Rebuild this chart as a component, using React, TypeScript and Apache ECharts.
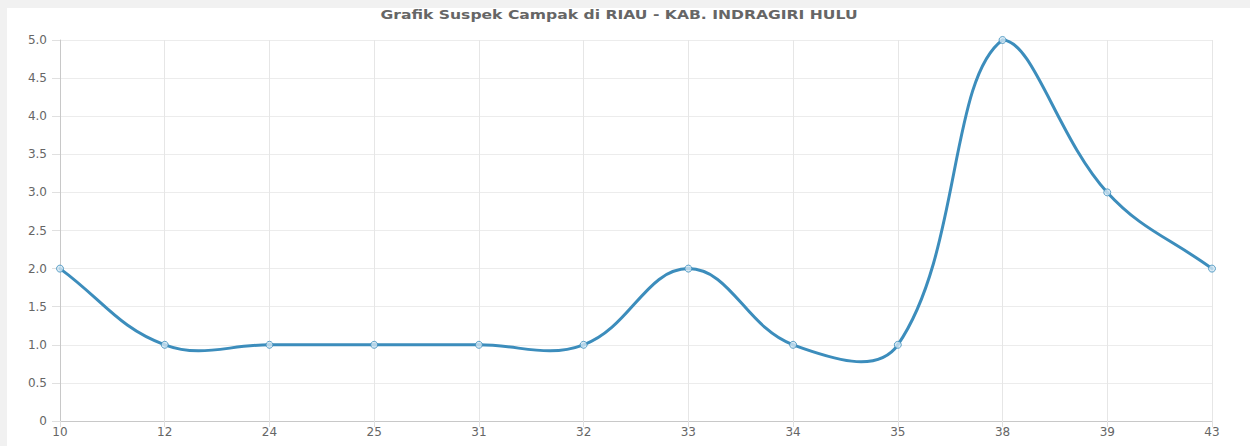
import React, { useEffect, useRef } from "react";
import * as echarts from "echarts";

const titleText = "Grafik Suspek Campak di RIAU - KAB. INDRAGIRI HULU";
const categories = ["10", "12", "24", "25", "31", "32", "33", "34", "35", "38", "39", "43"];
const values = [2, 1, 1, 1, 1, 1, 2, 1, 1, 5, 3, 2];
const yTicks = { min: 0, max: 5, interval: 0.5 };

const LINE_COLOR = "#3c8dbc";
const TENSION = 0.4;
const FONT = "DejaVu Sans, Liberation Sans, Arial, sans-serif";

type P = { x: number; y: number };

function controlPoints(pts: P[], area: { x: number; y: number; width: number; height: number }) {
  const n = pts.length;
  const res: { prev: P; next: P }[] = [];
  for (let i = 0; i < n; i++) {
    const cur = pts[i];
    const prev = i > 0 ? pts[i - 1] : cur;
    const next = i < n - 1 ? pts[i + 1] : cur;
    const d01 = Math.hypot(cur.x - prev.x, cur.y - prev.y);
    const d12 = Math.hypot(next.x - cur.x, next.y - cur.y);
    let s01 = d01 / (d01 + d12);
    let s12 = d12 / (d01 + d12);
    if (isNaN(s01)) s01 = 0;
    if (isNaN(s12)) s12 = 0;
    const fa = TENSION * s01;
    const fb = TENSION * s12;
    const clamp = (p: P): P => ({
      x: Math.max(area.x, Math.min(area.x + area.width, p.x)),
      y: Math.max(area.y, Math.min(area.y + area.height, p.y)),
    });
    res.push({
      prev: clamp({ x: cur.x - fa * (next.x - prev.x), y: cur.y - fa * (next.y - prev.y) }),
      next: clamp({ x: cur.x + fb * (next.x - prev.x), y: cur.y + fb * (next.y - prev.y) }),
    });
  }
  return res;
}

export default function App() {
  const ref = useRef<HTMLDivElement>(null);
  useEffect(() => {
    document.body.style.margin = "0";
    document.body.style.background = "#f1f1f1";
    const chart = echarts.init(ref.current!, null, { renderer: "svg" });
    chart.setOption({
      animation: false,
      graphic: [
        {
          type: "text",
          x: 612,
          y: 6,
          scaleX: 1.2,
          style: {
            text: titleText,
            textAlign: "center",
            textVerticalAlign: "middle",
            fontSize: 13,
            fontWeight: "bold",
            fill: "#666",
            fontFamily: FONT,
          },
        },
      ],
      grid: { left: 53, right: 38, top: 32, bottom: 25 },
      xAxis: {
        type: "category",
        data: categories,
        boundaryGap: false,
        axisLine: { lineStyle: { color: "#c8c8c8" } },
        axisTick: { show: true, length: 6, alignWithLabel: true, lineStyle: { color: "#e0e0e0" } },
        axisLabel: { color: "#666", fontSize: 12, margin: 5, fontFamily: FONT },
        splitLine: { show: true, lineStyle: { color: "#e6e6e6", width: 1 } },
      },
      yAxis: {
        type: "value",
        min: yTicks.min,
        max: yTicks.max,
        interval: yTicks.interval,
        axisLine: { show: true, lineStyle: { color: "#c8c8c8" } },
        axisTick: { show: true, length: 8, lineStyle: { color: "#e0e0e0" } },
        axisLabel: {
          color: "#666",
          fontSize: 12,
          margin: 13,
          fontFamily: FONT,
          formatter: (v: number) => (v === 0 ? "0" : v.toFixed(1)),
        },
        splitLine: { show: true, lineStyle: { color: "#ececec", width: 1 } },
      },
      series: [
        {
          type: "custom",
          data: values.map((v, i) => [i, v]),
          encode: { x: 0, y: 1 },
          z: 2,
          renderItem: (params: any, api: any) => {
            const i = params.dataIndex;
            if (i >= values.length - 1) return null;
            const pts: P[] = values.map((v, j) => {
              const c = api.coord([j, v]);
              return { x: c[0], y: c[1] };
            });
            const cps = controlPoints(pts, params.coordSys);
            return {
              type: "bezierCurve",
              shape: {
                x1: pts[i].x,
                y1: pts[i].y,
                x2: pts[i + 1].x,
                y2: pts[i + 1].y,
                cpx1: cps[i].next.x,
                cpy1: cps[i].next.y,
                cpx2: cps[i + 1].prev.x,
                cpy2: cps[i + 1].prev.y,
              },
              style: { stroke: LINE_COLOR, lineWidth: 3, fill: null, lineCap: "round" },
            };
          },
        },
        {
          type: "scatter",
          data: values,
          z: 3,
          symbol: "circle",
          symbolSize: 7,
          itemStyle: { color: "rgba(210,230,242,1)", borderColor: LINE_COLOR, borderWidth: 1 },
        },
      ],
    });
    return () => chart.dispose();
  }, []);
  return (
    <div style={{ width: 1250, height: 446, background: "#f1f1f1", position: "relative" }}>
      <div style={{ position: "absolute", left: 7, top: 8, width: 1243, height: 438, background: "#fff" }}>
        <div ref={ref} style={{ width: 1243, height: 438 }} />
      </div>
    </div>
  );
}
